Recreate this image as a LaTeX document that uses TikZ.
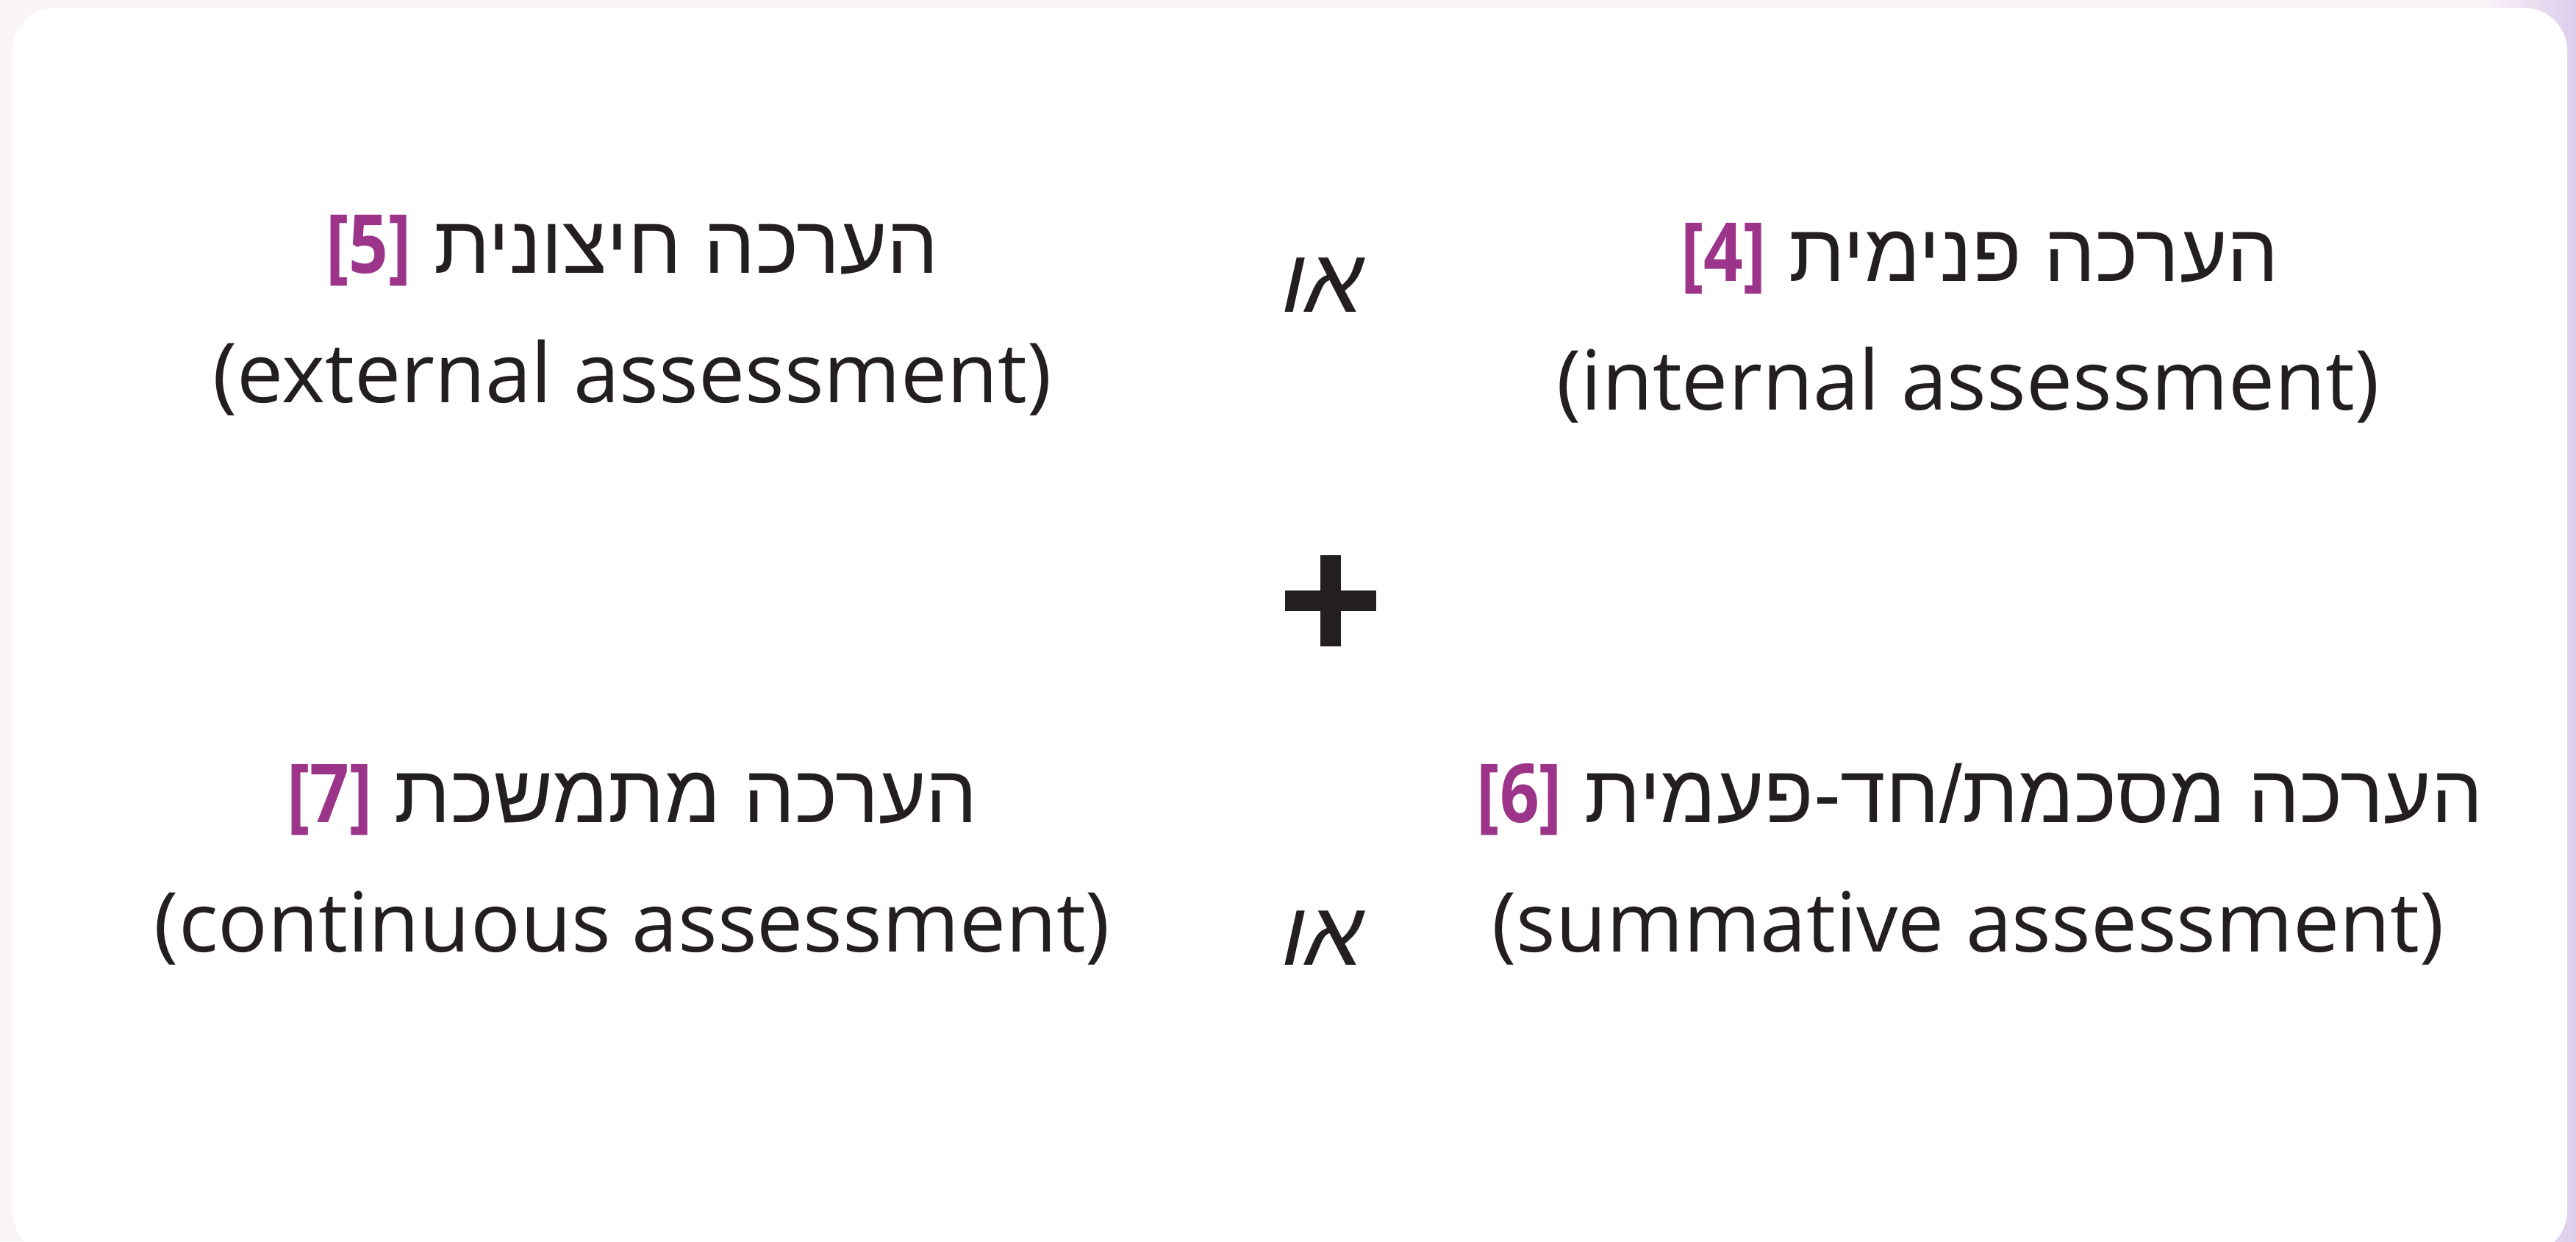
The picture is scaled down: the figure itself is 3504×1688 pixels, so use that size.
\documentclass[tikz,border=0pt]{standalone}
\usepackage{fontspec}
\usepackage{tikz}
\usetikzlibrary{positioning}
\TeXXeTstate=1
\setmainfont{Open Sans}
\newfontfamily\hebfont[Script=Hebrew]{Liberation Sans}
\newfontfamily\orfont[Script=Hebrew,FakeSlant=0.22]{Liberation Sans}
\newfontfamily\numfont[FakeStretch=0.85]{Open Sans}
\definecolor{asink}{HTML}{231F20}
\definecolor{aspurple}{HTML}{9C3589}
\definecolor{aspink}{HTML}{FAF3F8}
\definecolor{aslilac}{HTML}{DCCCEB}
\newcommand{\refnum}[1]{{\numfont\bfseries\color{aspurple}[#1]}}
\tikzset{
  hebline/.style={font=\hebfont\fontsize{31.5}{38}\selectfont, text=asink, inner sep=0pt, anchor=base},
  engline/.style={font=\fontsize{32}{38}\selectfont, text=asink, inner sep=0pt, anchor=base},
  orword/.style={font=\orfont\fontsize{35}{40}\selectfont, text=asink, inner sep=0pt, anchor=base},
  card/.style={fill=white, rounded corners=16.5pt}
}
\begin{document}
\begin{tikzpicture}[x=0.01cm, y=-0.01cm]
% background and card
\fill[aspink] (0,0) rectangle (3504,1688);
\shade[left color=aspink, right color=aslilac] (3380,0) rectangle (3504,1688);
\useasboundingbox (0,0) rectangle (3504,1688);
\fill[card] (17,11) rectangle (3492,1705);
% top row
\node[hebline] (intheb) at (2693,382) {\beginR הערכה פנימית \beginL\refnum{4}\endL\endR};
\node[engline, below=1.75cm of intheb.base, anchor=base, xshift=-0.16cm] (inteng) {(internal assessment)};
\node[hebline] (extheb) at (860,371) {\beginR הערכה חיצונית \beginL\refnum{5}\endL\endR};
\node[engline, below=1.76cm of extheb.base, anchor=base] (exteng) {(external assessment)};
\node[orword] (ortop) at (1792,424) {\beginR או\endR};
% plus sign
\fill[asink] (1748,803) rectangle (1872,831);
\fill[asink] (1796,755) rectangle (1824,879);
% bottom row
\node[hebline] (sumheb) at (2693,1118) {\beginR הערכה מסכמת/חד-פעמית \beginL\refnum{6}\endL\endR};
\node[engline, below=1.76cm of sumheb.base, anchor=base, xshift=-0.16cm] (sumeng) {(summative assessment)};
\node[hebline] (conheb) at (860,1118) {\beginR הערכה מתמשכת \beginL\refnum{7}\endL\endR};
\node[engline, below=1.76cm of conheb.base, anchor=base] (coneng) {(continuous assessment)};
\node[orword] (orbot) at (1792,1312) {\beginR או\endR};
\end{tikzpicture}
\end{document}
